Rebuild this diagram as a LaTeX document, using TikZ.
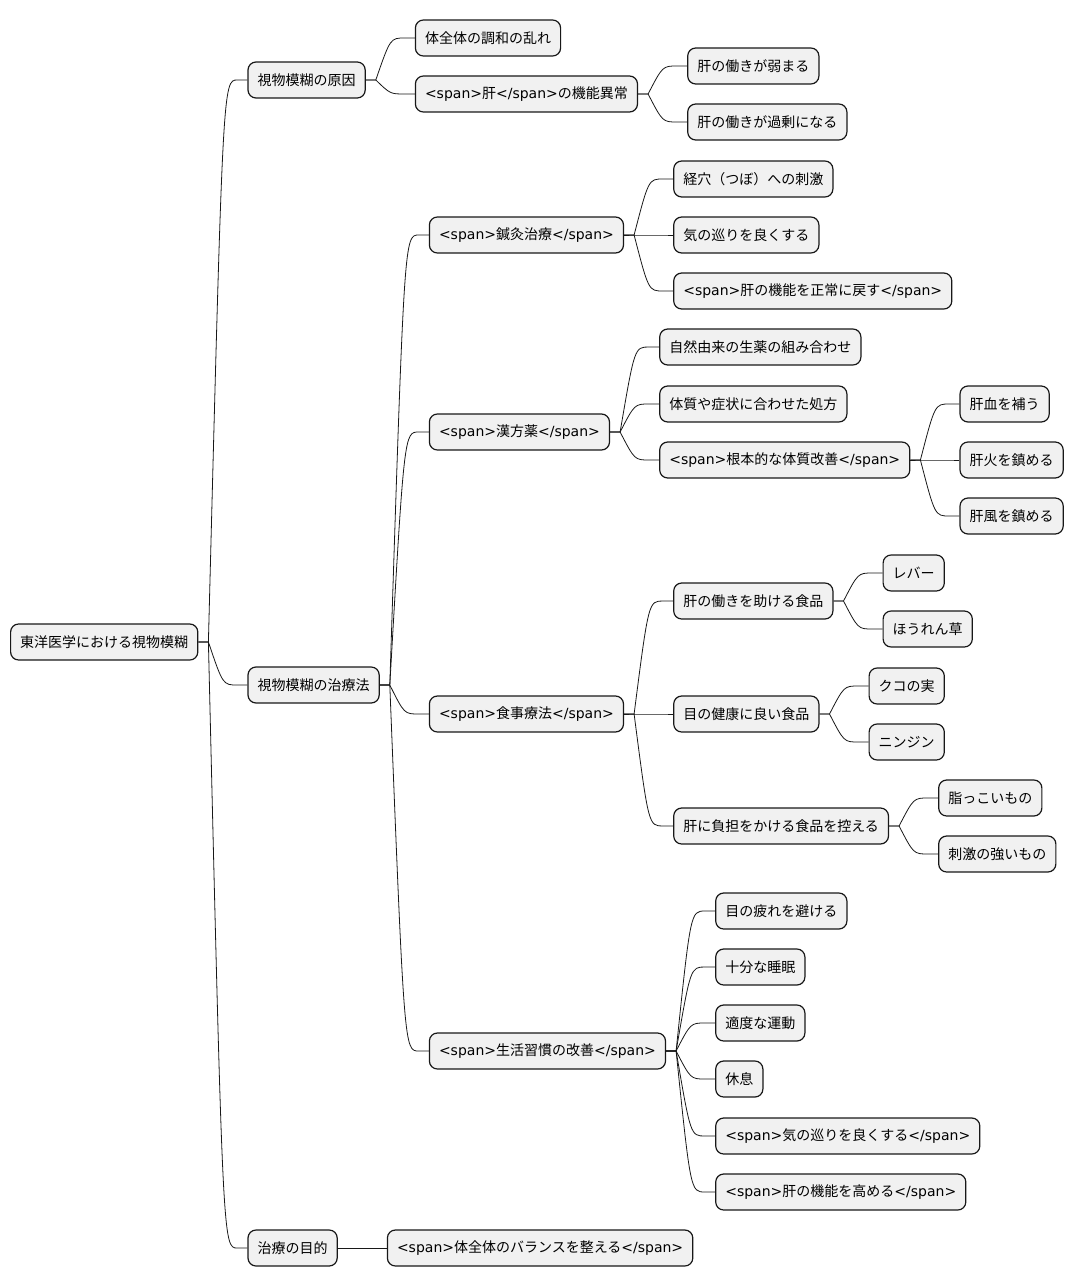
\documentclass[tikz,border=0pt]{standalone}
\usepackage{fontspec}
\setmainfont{Noto Sans CJK JP}
\newfontfamily\latinfont{DejaVu Sans}
\usetikzlibrary{positioning, calc}
\definecolor{boxfill}{HTML}{F1F1F1}
\definecolor{boxline}{HTML}{181818}
\newcommand{\spantag}[1]{{\latinfont<span>}#1{\latinfont</span>}}

\begin{document}
\begin{tikzpicture}[
        x=1pt, y=-1pt,
        node distance=49pt,
        topic/.style={rectangle, draw=boxline, fill=boxfill, line width=1.2pt, rounded corners=8pt, minimum height=36pt, inner xsep=9.6pt, inner ysep=0pt, font=\fontsize{14}{17}\selectfont},
        branch/.style={draw=boxline, line width=0.8pt}
    ]
        \useasboundingbox (0,0) rectangle (1076,1287);

        % Root and first level
        \node[topic, anchor=west] (root) at (10,642) {東洋医学における視物模糊};
        \node[topic, right=of root, yshift=562pt] (cause) {視物模糊の原因};
        \node[topic, right=of root, yshift=-43pt] (treat) {視物模糊の治療法};
        \node[topic, right=of root, yshift=-606pt] (goal) {治療の目的};

        % Causes
        \node[topic, right=of cause, yshift=42pt] (disorder) {体全体の調和の乱れ};
        \node[topic, right=of cause, yshift=-14pt] (liver) {\spantag{肝}の機能異常};
        \node[topic, right=of liver, yshift=28pt] (weak) {肝の働きが弱まる};
        \node[topic, right=of liver, yshift=-28pt] (excess) {肝の働きが過剰になる};

        % Treatments
        \node[topic, right=of treat, yshift=450pt] (acu) {\spantag{鍼灸治療}};
        \node[topic, right=of treat, yshift=253pt] (kampo) {\spantag{漢方薬}};
        \node[topic, right=of treat, yshift=-29pt] (diet) {\spantag{食事療法}};
        \node[topic, right=of treat, yshift=-366pt] (life) {\spantag{生活習慣の改善}};

        \node[topic, right=of acu, yshift=56pt] (acuA) {経穴（つぼ）への刺激};
        \node[topic, right=of acu] (acuB) {気の巡りを良くする};
        \node[topic, right=of acu, yshift=-56pt] (acuC) {\spantag{肝の機能を正常に戻す}};

        \node[topic, right=of kampo, yshift=85pt] (kampoA) {自然由来の生薬の組み合わせ};
        \node[topic, right=of kampo, yshift=28pt] (kampoB) {体質や症状に合わせた処方};
        \node[topic, right=of kampo, yshift=-28pt] (kampoC) {\spantag{根本的な体質改善}};
        \node[topic, right=of kampoC, yshift=56pt] (blood) {肝血を補う};
        \node[topic, right=of kampoC] (fire) {肝火を鎮める};
        \node[topic, right=of kampoC, yshift=-56pt] (wind) {肝風を鎮める};

        \node[topic, right=of diet, yshift=113pt] (foodA) {肝の働きを助ける食品};
        \node[topic, right=of diet] (foodB) {目の健康に良い食品};
        \node[topic, right=of diet, yshift=-112pt] (foodC) {肝に負担をかける食品を控える};
        \node[topic, right=of foodA, yshift=28pt] (liverfood) {レバー};
        \node[topic, right=of foodA, yshift=-28pt] (spinach) {ほうれん草};
        \node[topic, right=of foodB, yshift=28pt] (goji) {クコの実};
        \node[topic, right=of foodB, yshift=-28pt] (carrot) {ニンジン};
        \node[topic, right=of foodC, yshift=28pt] (greasy) {脂っこいもの};
        \node[topic, right=of foodC, yshift=-28pt] (spicy) {刺激の強いもの};

        \node[topic, right=of life, yshift=140pt] (lifeA) {目の疲れを避ける};
        \node[topic, right=of life, yshift=84pt] (lifeB) {十分な睡眠};
        \node[topic, right=of life, yshift=28pt] (lifeC) {適度な運動};
        \node[topic, right=of life, yshift=-28pt] (lifeD) {休息};
        \node[topic, right=of life, yshift=-85pt] (lifeE) {\spantag{気の巡りを良くする}};
        \node[topic, right=of life, yshift=-141pt] (lifeF) {\spantag{肝の機能を高める}};

        % Goal
        \node[topic, right=of goal] (balance) {\spantag{体全体のバランスを整える}};

        % Branches
        \foreach \p/\c in {root/cause, root/treat, root/goal,
                cause/disorder, cause/liver, liver/weak, liver/excess,
                treat/acu, treat/kampo, treat/diet, treat/life,
                acu/acuA, acu/acuB, acu/acuC,
                kampo/kampoA, kampo/kampoB, kampo/kampoC,
                kampoC/blood, kampoC/fire, kampoC/wind,
                diet/foodA, diet/foodB, diet/foodC,
                foodA/liverfood, foodA/spinach, foodB/goji, foodB/carrot,
                foodC/greasy, foodC/spicy,
                life/lifeA, life/lifeB, life/lifeC, life/lifeD, life/lifeE, life/lifeF,
                goal/balance} {
            \path ([xshift=10pt]\p.east) coordinate (s)
                  ([xshift=-10pt]\c.west) coordinate (e)
                  ($(s)!0.5!(e)$) coordinate (m);
            \draw[branch] (\p.east) -- (s) .. controls (m |- e) .. (e) -- (\c.west);
        }
    \end{tikzpicture}
\end{document}
